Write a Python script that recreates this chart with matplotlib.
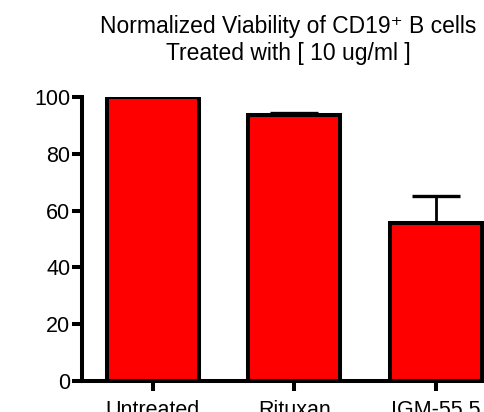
import matplotlib
matplotlib.use('Agg')
import matplotlib.pyplot as plt
import numpy as np

plt.rcParams['font.family'] = ['Liberation Sans', 'DejaVu Sans']

# data
groups = ['Untreated', 'Rituxan', 'IGM-55.5']
viability = [100.0, 93.6, 55.7]
sem = [0.0, 0.7, 9.3]
yticks = [0, 20, 40, 60, 80, 100]
title_lines = ['Normalized Viability of CD19\u207a B cells',
               'Treated with [ 10 ug/ml ]']

W, H = 485, 412
fig = plt.figure(figsize=(W / 100, H / 100), dpi=100)
# axes run past the right edge, like the cropped original
ax = fig.add_axes([82 / W, 31 / H, 424.5 / W, 284 / H])

x = np.arange(len(groups))
lw = 2.9
ax.errorbar(x, viability, yerr=[np.zeros(len(sem)), sem], fmt='none',
            ecolor='black', elinewidth=2.0, capsize=17, capthick=2.4, zorder=1)
ax.bar(x, viability, width=0.65, color='#ff0000', edgecolor='black',
       linewidth=lw, zorder=2)

ax.set_xlim(-0.5, 2.5)
ax.set_ylim(0, 100)
ax.set_yticks(yticks)
ax.set_xticks(x)
ax.set_xticklabels(groups)

for side in ['top', 'right']:
    ax.spines[side].set_visible(False)
for side in ['left', 'bottom']:
    ax.spines[side].set_linewidth(lw)
    ax.spines[side].set_capstyle('projecting')

ax.tick_params(axis='both', direction='out', length=7.5, width=lw,
               labelsize=15.5)
ax.tick_params(axis='y', pad=1)
ax.tick_params(axis='x', pad=6)

# two title lines, baselines
for line, base in zip(title_lines, [32.5, 60]):
    fig.text(288 / W, 1 - base / H, line, ha='center', va='baseline',
             fontsize=16.5)

fig.savefig('out.png', dpi=100)
